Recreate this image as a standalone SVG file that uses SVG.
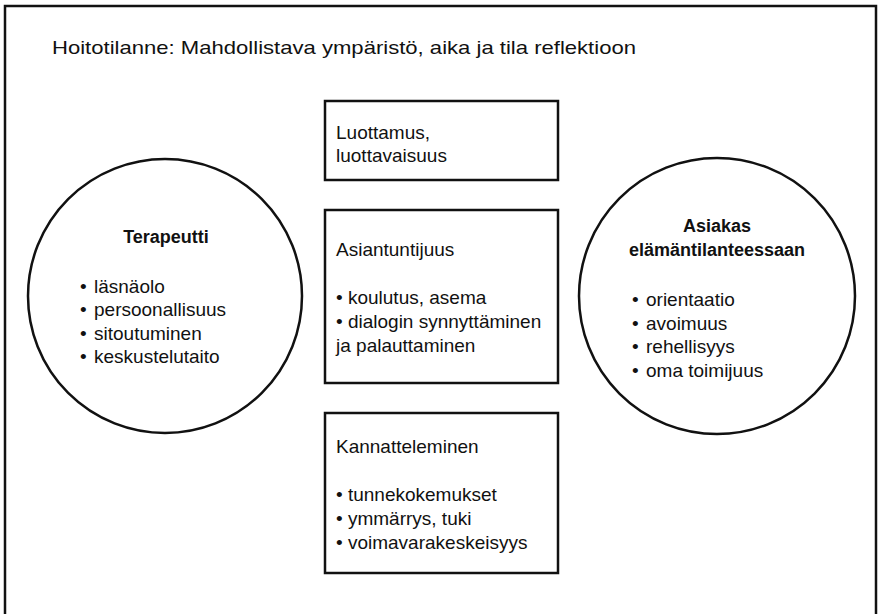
<svg xmlns="http://www.w3.org/2000/svg" width="878" height="614" viewBox="0 0 878 614">
<style>
.t{font-family:"Liberation Sans",Arial,sans-serif;font-size:19px;fill:#111}
.b{font-weight:bold;font-size:18px}
.shape{fill:#fff;stroke:#111;stroke-width:2.5}
</style>
<rect x="0" y="0" width="878" height="614" fill="#fff"/>
<rect x="5" y="6" width="871" height="620" fill="none" stroke="#111" stroke-width="2.5"/>
<text class="t" x="52" y="54" textLength="584" lengthAdjust="spacingAndGlyphs">Hoitotilanne: Mahdollistava ympäristö, aika ja tila reflektioon</text>
<g id="connectors"></g>
<g id="terapeutti">
<circle class="shape" cx="165" cy="296" r="137"/>
<text class="t b" x="166" y="243" text-anchor="middle">Terapeutti</text>
<text class="t" x="80" y="293">•</text><text class="t" x="94" y="293">läsnäolo</text>
<text class="t" x="80" y="316">•</text><text class="t" x="94" y="316">persoonallisuus</text>
<text class="t" x="80" y="340">•</text><text class="t" x="94" y="340">sitoutuminen</text>
<text class="t" x="80" y="363">•</text><text class="t" x="94" y="363">keskustelutaito</text>
</g>
<g id="asiakas">
<circle class="shape" cx="717" cy="296" r="138"/>
<text class="t b" x="717" y="232" text-anchor="middle">Asiakas</text>
<text class="t b" x="717" y="256" text-anchor="middle">elämäntilanteessaan</text>
<text class="t" x="632" y="306">•</text><text class="t" x="646" y="306">orientaatio</text>
<text class="t" x="632" y="330">•</text><text class="t" x="646" y="330">avoimuus</text>
<text class="t" x="632" y="353">•</text><text class="t" x="646" y="353">rehellisyys</text>
<text class="t" x="632" y="377">•</text><text class="t" x="646" y="377">oma toimijuus</text>
</g>
<g id="luottamus">
<rect class="shape" x="325" y="101" width="233" height="79"/>
<text class="t" x="336" y="139">Luottamus,</text>
<text class="t" x="336" y="162">luottavaisuus</text>
</g>
<g id="asiantuntijuus">
<rect class="shape" x="325" y="210" width="233" height="173"/>
<text class="t" x="336" y="256">Asiantuntijuus</text>
<text class="t" x="336" y="304">• koulutus, asema</text>
<text class="t" x="336" y="328">• dialogin synnyttäminen</text>
<text class="t" x="336" y="352">ja palauttaminen</text>
</g>
<g id="kannatteleminen">
<rect class="shape" x="325" y="413" width="233" height="160"/>
<text class="t" x="336" y="453">Kannatteleminen</text>
<text class="t" x="336" y="501">• tunnekokemukset</text>
<text class="t" x="336" y="525">• ymmärrys, tuki</text>
<text class="t" x="336" y="549">• voimavarakeskeisyys</text>
</g>
</svg>
